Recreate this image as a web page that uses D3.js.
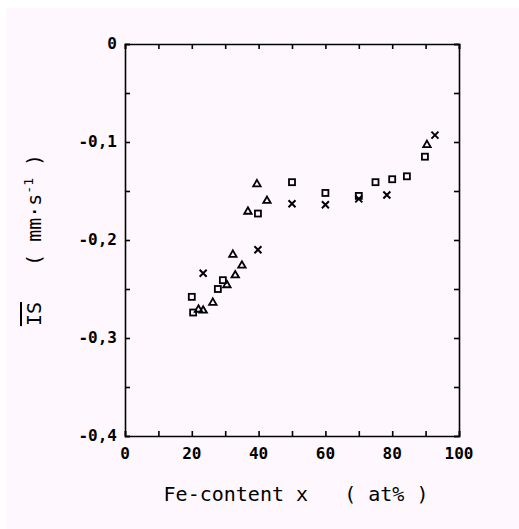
<!DOCTYPE html>
<html>
<head>
<meta charset="utf-8">
<script src="https://cdn.jsdelivr.net/npm/d3@7"></script>
<style>
  body { margin: 0; background: #fff; }
  svg text { font-family: "DejaVu Sans Mono", monospace; fill: #000; white-space: pre; }
</style>
</head>
<body>
<div id="chart"></div>
<script>
var W = 519, H = 529;
var left = 125, top0 = 44, pw = 334, ph = 392;

// (Fe content in at%, isomer shift in mm/s)
var squareX = [20, 20.4, 27.8, 29.3, 39.8, 50, 60, 70, 75, 80, 84.4, 89.8];
var squareY = [-0.258, -0.274, -0.250, -0.241, -0.173, -0.141, -0.152, -0.155, -0.141, -0.138, -0.135, -0.115];
var crossX = [23.4, 39.8, 50, 60, 70, 78.4, 92.8];
var crossY = [-0.234, -0.210, -0.163, -0.164, -0.158, -0.154, -0.093];
var triX = [22, 23.4, 26.3, 30.5, 32.3, 33, 35, 36.8, 39.5, 42.5, 90.4];
var triY = [-0.271, -0.272, -0.264, -0.246, -0.215, -0.236, -0.226, -0.171, -0.143, -0.160, -0.103];

var xTicks = [0, 20, 40, 60, 80, 100];
var yTicks = [0, -0.1, -0.2, -0.3, -0.4];

var svg = d3.select('#chart').append('svg')
    .attr('width', W)
    .attr('height', H);

svg.append('rect')
    .attr('x', 6).attr('y', 8)
    .attr('width', W - 6).attr('height', H - 8)
    .attr('fill', '#fef7fd');

var x = d3.scaleLinear().domain([0, 100]).range([left, left + pw]);
var y = d3.scaleLinear().domain([-0.4, 0]).range([top0 + ph, top0]);

var g = svg.append('g');

// inward ticks on all four sides
var xAxisB = d3.axisBottom(x).tickValues(d3.range(0, 101, 10)).tickSize(-5).tickFormat('');
var xAxisT = d3.axisTop(x).tickValues(d3.range(0, 101, 10)).tickSize(-5).tickFormat('');
var yAxisL = d3.axisLeft(y).tickValues(d3.range(-0.4, 0.001, 0.05)).tickSize(-5).tickFormat('');
var yAxisR = d3.axisRight(y).tickValues(d3.range(-0.4, 0.001, 0.05)).tickSize(-5).tickFormat('');

g.append('g').attr('transform', 'translate(0,' + (top0 + ph) + ')').call(xAxisB);
g.append('g').attr('transform', 'translate(0,' + top0 + ')').call(xAxisT);
g.append('g').attr('transform', 'translate(' + left + ',0)').call(yAxisL);
g.append('g').attr('transform', 'translate(' + (left + pw) + ',0)').call(yAxisR);

g.selectAll('.domain').attr('stroke', '#000').attr('stroke-width', 1.6);
g.selectAll('.tick line').attr('stroke', '#000').attr('stroke-width', 1.6);

// tick labels
svg.selectAll('.xlab')
    .data(xTicks)
    .enter()
    .append('text')
    .attr('x', function (d) { return x(d); })
    .attr('y', top0 + ph + 23)
    .attr('text-anchor', 'middle')
    .attr('font-size', 16)
    .attr('font-weight', 'bold')
    .text(function (d) { return d; });

svg.selectAll('.ylab')
    .data(yTicks)
    .enter()
    .append('text')
    .attr('x', left - 8)
    .attr('y', function (d) { return y(d) + 5; })
    .attr('text-anchor', 'end')
    .attr('font-size', 16)
    .attr('font-weight', 'bold')
    .text(function (d) { return d === 0 ? '0' : '-' + Math.abs(d).toFixed(1).replace('.', ','); });

// axis titles
svg.append('text')
    .attr('x', 296)
    .attr('y', 501)
    .attr('text-anchor', 'middle')
    .attr('font-size', 20)
    .text('Fe-content x   ( at% )');

var yt = svg.append('text')
    .attr('transform', 'translate(41,240) rotate(-90)')
    .attr('text-anchor', 'middle')
    .attr('font-size', 20);
yt.append('tspan').attr('text-decoration', 'overline').text('IS');
yt.append('tspan').text('   ( mm\u00b7s');
yt.append('tspan').attr('dy', -8).attr('font-size', 13).text('-1');
yt.append('tspan').attr('dy', 8).text(' )');

// markers
var sq = d3.zip(squareX, squareY);
var cr = d3.zip(crossX, crossY);
var tr = d3.zip(triX, triY);

svg.selectAll('.sq')
    .data(sq)
    .enter()
    .append('rect')
    .attr('x', function (d) { return x(d[0]) - 3; })
    .attr('y', function (d) { return y(d[1]) - 3; })
    .attr('width', 6).attr('height', 6)
    .attr('fill', 'none').attr('stroke', '#000').attr('stroke-width', 1.8);

svg.selectAll('.cr')
    .data(cr)
    .enter()
    .append('path')
    .attr('transform', function (d) { return 'translate(' + x(d[0]) + ',' + y(d[1]) + ')'; })
    .attr('d', 'M-3.5,-3.5L3.5,3.5M-3.5,3.5L3.5,-3.5')
    .attr('stroke', '#000').attr('stroke-width', 2);

svg.selectAll('.tr')
    .data(tr)
    .enter()
    .append('path')
    .attr('transform', function (d) { return 'translate(' + x(d[0]) + ',' + y(d[1]) + ')'; })
    .attr('d', d3.symbol().type(d3.symbolTriangle).size(24))
    .attr('fill', 'none').attr('stroke', '#000').attr('stroke-width', 1.8);
</script>
</body>
</html>
